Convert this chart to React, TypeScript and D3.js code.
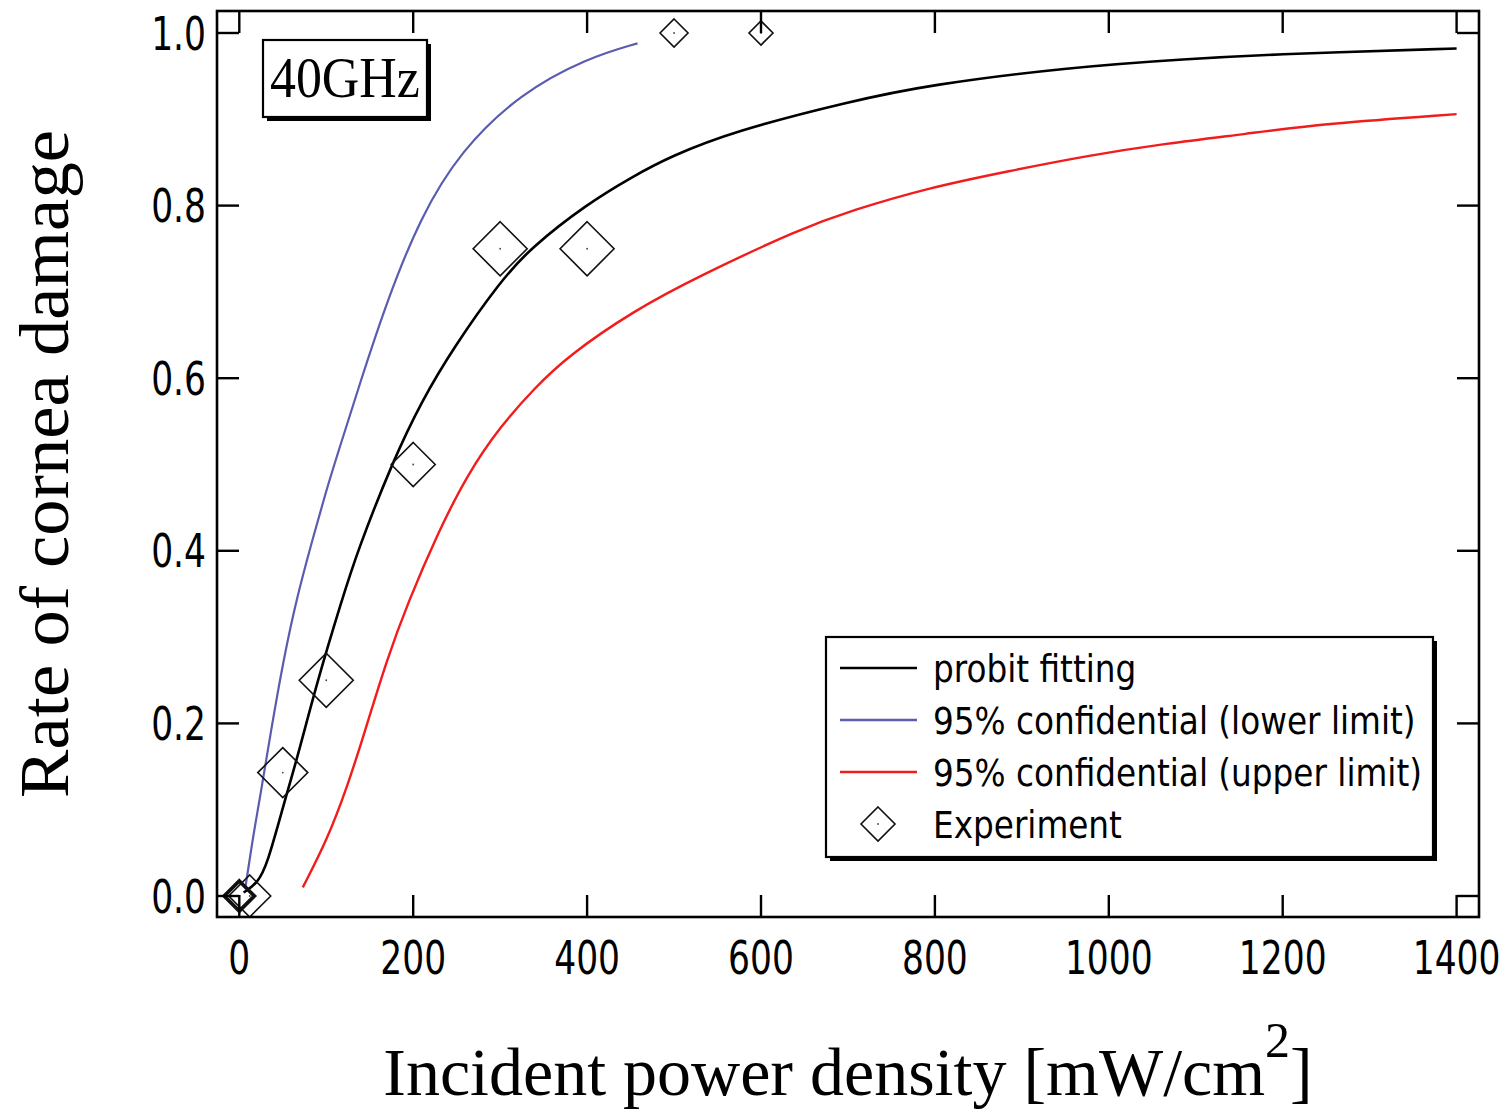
import React from "react";
import * as d3 from "d3";

// ---- data ----
const xTicks = [0, 200, 400, 600, 800, 1000, 1200, 1400];
const yTicks = [0, 0.2, 0.4, 0.6, 0.8, 1.0];

const probitX = [5, 21, 32, 51, 67, 90, 118, 136, 177, 210, 246, 300, 335, 400, 453, 496, 568, 703, 794, 952, 1089, 1203, 1400];
const probitY = [0.004, 0.015, 0.036, 0.106, 0.161, 0.25, 0.343, 0.4, 0.505, 0.574, 0.635, 0.712, 0.751, 0.802, 0.834, 0.857, 0.886, 0.921, 0.94, 0.96, 0.97, 0.976, 0.982];

const lowerX = [7, 16, 24, 36, 51, 66, 82, 100, 113, 139, 170, 208, 254, 323, 400, 458];
const lowerY = [0.01, 0.07, 0.115, 0.189, 0.275, 0.345, 0.405, 0.47, 0.512, 0.595, 0.69, 0.786, 0.863, 0.93, 0.971, 0.988];

const upperX = [73, 101, 124, 143, 170, 194, 228, 262, 300, 340, 377, 453, 530, 645, 703, 794, 885, 976, 1066, 1157, 1248, 1400];
const upperY = [0.01, 0.065, 0.126, 0.186, 0.275, 0.34, 0.42, 0.488, 0.544, 0.589, 0.625, 0.678, 0.719, 0.773, 0.794, 0.821, 0.84, 0.858, 0.872, 0.883, 0.895, 0.906];

const expX = [0, 0, 12, 50, 100, 200, 300, 400, 500, 600];
const expY = [0, 0, 0, 0.143, 0.25, 0.5, 0.75, 0.75, 1.0, 1.0];

const legendLabels = [
  "probit fitting",
  "95% confidential (lower limit)",
  "95% confidential (upper limit)",
  "Experiment",
];

// ---- style ----
const markerHalf = [14, 16, 21, 25, 27, 22, 27, 27, 14, 12];
const BLUE = "#5a5cb0";
const RED = "#f21c1c";
const SANS = "'DejaVu Sans', Verdana, sans-serif";
const SERIF = "'Liberation Serif', 'Times New Roman', serif";

const W = 1508;
const H = 1113;
const frame = { left: 217, right: 1479, top: 11, bottom: 917 };
const TICK = 22;

const x = d3.scaleLinear().domain([0, 1400]).range([239.3, 1456.6]);
const y = d3.scaleLinear().domain([0, 1]).range([896, 33]);

const line = d3
  .line<[number, number]>()
  .x((d) => x(d[0]))
  .y((d) => y(d[1]))
  .curve(d3.curveBasis);

const zip = (a: number[], b: number[]) => a.map((v, i) => [v, b[i]] as [number, number]);

const diamond = (cx: number, cy: number, h: number) =>
  `M${cx},${cy - h}L${cx + h},${cy}L${cx},${cy + h}L${cx - h},${cy}Z`;

function SText({ x: tx, y: ty, sx, size, family, anchor, children }: any) {
  return (
    <text
      transform={`translate(${tx},${ty}) scale(${sx},1)`}
      fontFamily={family}
      fontSize={size}
      textAnchor={anchor || "start"}
      fill="#000"
    >
      {children}
    </text>
  );
}

export default function App() {
  const fmt = d3.format(".1f");
  const legendColors = ["#000", BLUE, RED];
  return (
    <svg
      width={W}
      height={H}
      style={{ position: "absolute", left: 0, top: 0, background: "#fff" }}
    >
      <rect x={0} y={0} width={W} height={H} fill="#fff" />

      {/* curves */}
      <path d={line(zip(lowerX, lowerY)) || ""} fill="none" stroke={BLUE} strokeWidth={2.2} />
      <path d={line(zip(upperX, upperY)) || ""} fill="none" stroke={RED} strokeWidth={2.4} />
      <path d={line(zip(probitX, probitY)) || ""} fill="none" stroke="#000" strokeWidth={2.6} />

      {/* experiment markers */}
      {expX.map((v, i) => (
        <g key={i}>
          <path
            d={diamond(x(v), y(expY[i]), markerHalf[i])}
            fill="none"
            stroke="#111"
            strokeWidth={i < 2 ? 2.4 : 1.6}
          />
          <circle cx={x(v)} cy={y(expY[i])} r={0.9} fill="#444" />
        </g>
      ))}

      {/* frame */}
      <rect
        x={frame.left}
        y={frame.top}
        width={frame.right - frame.left}
        height={frame.bottom - frame.top}
        fill="none"
        stroke="#000"
        strokeWidth={2.6}
      />

      {/* ticks */}
      {xTicks.map((t) => (
        <g key={"xt" + t}>
          <line x1={x(t)} x2={x(t)} y1={frame.bottom} y2={frame.bottom - TICK} stroke="#000" strokeWidth={2.4} />
          <line x1={x(t)} x2={x(t)} y1={frame.top} y2={frame.top + TICK} stroke="#000" strokeWidth={2.4} />
          <SText x={x(t)} y={974} sx={0.75} size={46} family={SANS} anchor="middle">
            {String(t)}
          </SText>
        </g>
      ))}
      {yTicks.map((t) => (
        <g key={"yt" + t}>
          <line x1={frame.left} x2={frame.left + TICK} y1={y(t)} y2={y(t)} stroke="#000" strokeWidth={2.4} />
          <line x1={frame.right} x2={frame.right - TICK} y1={y(t)} y2={y(t)} stroke="#000" strokeWidth={2.4} />
          <SText x={206} y={y(t) + 16.5} sx={0.75} size={46} family={SANS} anchor="end">
            {fmt(t)}
          </SText>
        </g>
      ))}

      {/* 40GHz box */}
      <rect x={267} y={44} width={164} height={77} fill="#000" />
      <rect x={263} y={40} width={164} height={77} fill="#fff" stroke="#000" strokeWidth={2.2} />
      <SText x={270} y={97} sx={0.91} size={57} family={SERIF}>
        40GHz
      </SText>

      {/* legend */}
      <rect x={830} y={641} width={607} height={220} fill="#000" />
      <rect x={826} y={637} width={607} height={220} fill="#fff" stroke="#000" strokeWidth={2.2} />
      {legendLabels.map((lab, i) => {
        const ly = 668 + i * 52;
        return (
          <g key={lab}>
            {i < 3 ? (
              <line x1={840} x2={917} y1={ly} y2={ly} stroke={legendColors[i]} strokeWidth={2.4} />
            ) : (
              <g>
                <path d={diamond(878, ly, 17)} fill="none" stroke="#111" strokeWidth={1.6} />
                <circle cx={878} cy={ly} r={0.9} fill="#444" />
              </g>
            )}
            <SText x={933} y={ly + 13.5} sx={0.884} size={37} family={SANS}>
              {lab}
            </SText>
          </g>
        );
      })}

      {/* axis titles */}
      <text
        x={848}
        y={1095}
        fontFamily={SERIF}
        fontSize={68}
        textAnchor="middle"
        fill="#000"
      >
        Incident power density [mW/cm
        <tspan fontSize={50} dy={-38}>2</tspan>
        <tspan dy={38}>]</tspan>
      </text>
      <text
        transform={`translate(68,464) rotate(-90)`}
        fontFamily={SERIF}
        fontSize={70}
        textAnchor="middle"
        textLength={668}
        lengthAdjust="spacingAndGlyphs"
        fill="#000"
      >
        Rate of cornea damage
      </text>
    </svg>
  );
}
